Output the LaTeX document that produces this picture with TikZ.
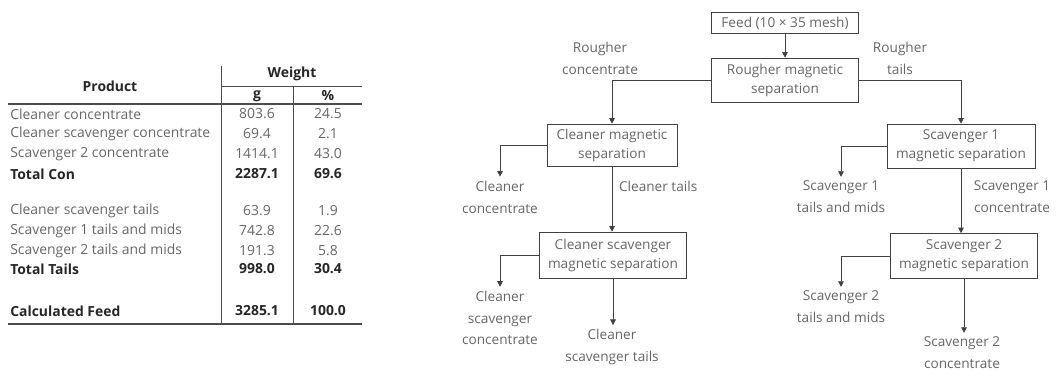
\documentclass[tikz,border=0pt]{standalone}
\usepackage{fontspec}
\setmainfont{Open Sans}
\usetikzlibrary{arrows.meta}
\begin{document}
\begin{tikzpicture}[x=0.025cm,y=-0.025cm]

\useasboundingbox (0,0) rectangle (1056,373);
% one pixel of the layout
\def\px{0.025cm}
% styles of table and flowsheet
\tikzstyle{cell} = [inner sep=0pt, text=black!60, font=\fontsize{9.9}{11}\selectfont];
\tikzstyle{head} = [cell, text=black!85, font=\fontsize{9.9}{11}\selectfont\bfseries];
\tikzstyle{rule} = [draw=black!70, line width=0.9pt];
\tikzstyle{unit} = [
	draw=black!75, fill=white, rectangle, inner sep=1pt,
	text=black!60, align=center, font=\fontsize{9.7}{13.5}\selectfont ];
\tikzstyle{stream} = [inner sep=0pt, outer sep=3pt, text=black!60,
	align=center, font=\fontsize{9.7}{15.5}\selectfont];
\tikzstyle{flow} = [draw=black!75, line width=0.6pt, -{Triangle[length=4pt,width=4pt]}];

% ---- table
\node[head] (hprod) at (110,86) {Product};
\node[head] (hwt)   at (292,74) {Weight};
\node[head] (hg)    at (257,96) {g};
\node[head] (hpct)  at (328,96) {\%};

\node[cell,anchor=west] (r1) at (10,114) {Cleaner concentrate};
\node[cell,anchor=west] (r2) at (10,134) {Cleaner scavenger concentrate};
\node[cell,anchor=west] (r3) at (10,154) {Scavenger 2 concentrate};
\node[head,anchor=west] (r4) at (10,174) {Total Con};
\node[cell,anchor=west] (r5) at (10,211) {Cleaner scavenger tails};
\node[cell,anchor=west] (r6) at (10,231) {Scavenger 1 tails and mids};
\node[cell,anchor=west] (r7) at (10,251) {Scavenger 2 tails and mids};
\node[head,anchor=west] (r8) at (10,269) {Total Tails};
\node[head,anchor=west] (r9) at (10,311) {Calculated Feed};

\node[cell] (g1) at (257,114) {803.6};  \node[cell] (p1) at (328,114) {24.5};
\node[cell] (g2) at (257,134) {69.4};   \node[cell] (p2) at (328,134) {2.1};
\node[cell] (g3) at (257,154) {1414.1}; \node[cell] (p3) at (328,154) {43.0};
\node[head] (g4) at (257,174) {2287.1}; \node[head] (p4) at (328,174) {69.6};
\node[cell] (g5) at (257,211) {63.9};   \node[cell] (p5) at (328,211) {1.9};
\node[cell] (g6) at (257,231) {742.8};  \node[cell] (p6) at (328,231) {22.6};
\node[cell] (g7) at (257,251) {191.3};  \node[cell] (p7) at (328,251) {5.8};
\node[head] (g8) at (257,269) {998.0};  \node[head] (p8) at (328,269) {30.4};
\node[head] (g9) at (257,311) {3285.1}; \node[head] (p9) at (328,311) {100.0};

\draw[draw=black!70, line width=0.5pt] (222,86) -- (362,86);
\draw[rule] (8,104) -- (362,104);
\draw[rule] (8,324) -- (362,324);
\draw[draw=black!70, line width=0.5pt] (221,66) -- (221,324);
\draw[draw=black!70, line width=0.5pt] (293,86) -- (293,324);

% ---- flowsheet
\node[unit, minimum width=147*\px, minimum height=21*\px] (feed) at (785,23) {Feed (10 × 35 mesh)};
\node[unit, minimum width=147*\px, minimum height=44*\px] (rougher) at (785,80) {Rougher magnetic\\separation};
\node[unit, minimum width=130*\px, minimum height=42*\px] (cleaner) at (612,145) {Cleaner magnetic\\separation};
\node[unit, minimum width=147*\px, minimum height=46*\px] (clscav) at (613,255) {Cleaner scavenger\\magnetic separation};
\node[unit, minimum width=148*\px, minimum height=44*\px] (scav1) at (961,146) {Scavenger 1\\magnetic separation};
\node[unit, minimum width=147*\px, minimum height=45*\px] (scav2) at (964,256) {Scavenger 2\\magnetic separation};

\node[stream] (rcon)   at (600,58)  {Rougher\\concentrate};
\node[stream] (rtail)  at (900,58)  {Rougher\\tails};
\node[stream] (ccon)   at (500,197) {Cleaner\\concentrate};
\node[stream] (cscon)  at (500,318) {Cleaner\\scavenger\\concentrate};
\node[stream] (cstail) at (612,347) {Cleaner\\scavenger tails};
\node[stream] (s1tail) at (841,197) {Scavenger 1\\tails and mids};
\node[stream] (s1con)  at (1012,197) {Scavenger 1\\concentrate};
\node[stream] (s2tail) at (841,307) {Scavenger 2\\tails and mids};
\node[stream] (s2con)  at (962,353) {Scavenger 2\\concentrate};

\draw[flow] (feed) -- (rougher);
\draw[flow] (rougher.west) -| (cleaner.north);
\draw[flow] (rougher.east) -| (scav1.north);

\draw[flow] (cleaner.west) -| (ccon.north);
\draw[flow] (cleaner.south) -- node[stream, anchor=west, outer sep=0pt, xshift=5pt, pos=0.3] (ctail) {Cleaner tails} (cleaner.south |- clscav.north);
\draw[flow] (clscav.west) -| (cscon.north);
\draw[flow] (clscav.south) -- (clscav.south |- cstail.north);

\draw[flow] (scav1.west) -| (s1tail.north);
\draw[flow] (scav1.south) -- (scav1.south |- scav2.north);
\draw[flow] (scav2.west) -| (s2tail.north);
\draw[flow] (scav2.south) -- (scav2.south |- s2con.north);

\end{tikzpicture}
\end{document}
